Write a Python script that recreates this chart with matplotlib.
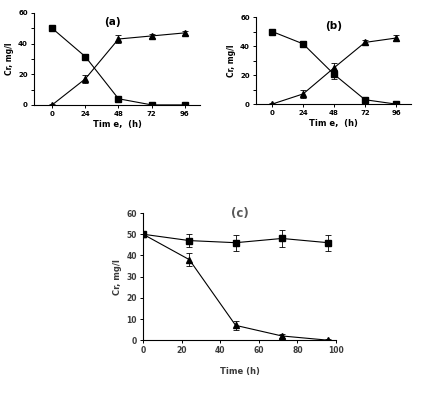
import numpy as np
import matplotlib.pyplot as plt
from matplotlib.ticker import MultipleLocator

# panel (a)
time_ab = [0, 24, 48, 72, 96]
a_sq = [50, 31.5, 4, 0, 0]
a_sq_err = [0.5, 2, 1, 0.5, 0.5]
a_tri = [0, 17, 43, 45, 47]
a_tri_err = [0.5, 2.5, 2.5, 1.5, 1.5]

# panel (b)
b_sq = [50, 41.5, 20.5, 3, 0]
b_sq_err = [0.5, 2, 3, 2, 0.5]
b_tri = [0, 7, 25, 42.5, 45.5]
b_tri_err = [0.5, 2.5, 3, 2, 2]

# panel (c)
time_c = [0, 24, 48, 72, 96]
c_sq = [50, 47, 46, 48, 46]
c_sq_err = [0.5, 3, 3.8, 3.8, 3.8]
c_tri = [50, 38, 7, 2, 0]
c_tri_err = [0.5, 3, 2, 1, 0.5]

fig = plt.figure(figsize=(4.22, 4.05), dpi=100)


def small_panel(rect, sq, sq_err, tri, tri_err, label, xlim, lab_x):
    ax = fig.add_axes(rect)
    ax.errorbar(time_ab, sq, yerr=sq_err, color='black', marker='s', ms=4,
                lw=0.8, elinewidth=0.6, capsize=2, capthick=0.6)
    ax.errorbar(time_ab, tri, yerr=tri_err, color='black', marker='^', ms=4.5,
                lw=0.8, elinewidth=0.6, capsize=2, capthick=0.6)
    ax.set_xlim(*xlim)
    ax.set_ylim(0, 60)
    ax.set_xticks(time_ab)
    ax.yaxis.set_major_locator(MultipleLocator(20))
    ax.yaxis.set_minor_locator(MultipleLocator(10))
    for s in ['top', 'right']:
        ax.spines[s].set_visible(False)
    for s in ['left', 'bottom']:
        ax.spines[s].set_linewidth(0.8)
    ax.tick_params(which='both', direction='out', width=0.7, labelsize=5, pad=2)
    ax.tick_params(which='major', length=2.5)
    ax.tick_params(which='minor', length=2)
    for t in ax.get_xticklabels() + ax.get_yticklabels():
        t.set_fontweight('bold')
    ax.set_xlabel("Tim e,  (h)", fontsize=6, fontweight='bold', labelpad=2)
    ax.set_ylabel("Cr, mg/l", fontsize=5.5, fontweight='bold', labelpad=3)
    ax.text(lab_x, 0.90, label, transform=ax.transAxes, ha='center', va='center',
            fontsize=7.5, fontweight='bold')
    return ax


small_panel([0.081, 0.741, 0.393, 0.227], a_sq, a_sq_err, a_tri, a_tri_err,
            "(a)", (-13, 107), 0.47)
small_panel([0.607, 0.743, 0.367, 0.215], b_sq, b_sq_err, b_tri, b_tri_err,
            "(b)", (-12.4, 107.7), 0.50)

grey = '#3a3a3a'
ax = fig.add_axes([0.339, 0.160, 0.457, 0.314])
ax.errorbar(time_c, c_sq, yerr=c_sq_err, color='black', marker='s', ms=4,
            lw=0.8, elinewidth=0.6, capsize=2.5, capthick=0.6)
ax.errorbar(time_c, c_tri, yerr=c_tri_err, color='black', marker='^', ms=4.5,
            lw=0.8, elinewidth=0.6, capsize=2.5, capthick=0.6)
ax.set_xlim(0, 100)
ax.set_ylim(0, 60)
ax.xaxis.set_major_locator(MultipleLocator(20))
ax.yaxis.set_major_locator(MultipleLocator(10))
for s in ['top', 'right']:
    ax.spines[s].set_visible(False)
for s in ['left', 'bottom']:
    ax.spines[s].set_linewidth(0.8)
ax.tick_params(direction='out', length=2.5, width=0.7, labelsize=5.5,
               labelcolor=grey, pad=2)
for t in ax.get_xticklabels() + ax.get_yticklabels():
    t.set_fontweight('bold')
ax.set_xlabel("Time (h)", fontsize=6, fontweight='bold', color=grey, labelpad=8)
ax.set_ylabel("Cr, mg/l", fontsize=6, fontweight='bold', color=grey, labelpad=3)
ax.text(0.5, 1.0, "(c)", transform=ax.transAxes, ha='center', va='center',
        fontsize=8.5, fontweight='bold', color='#595959')

fig.savefig("out.png", dpi=100)
